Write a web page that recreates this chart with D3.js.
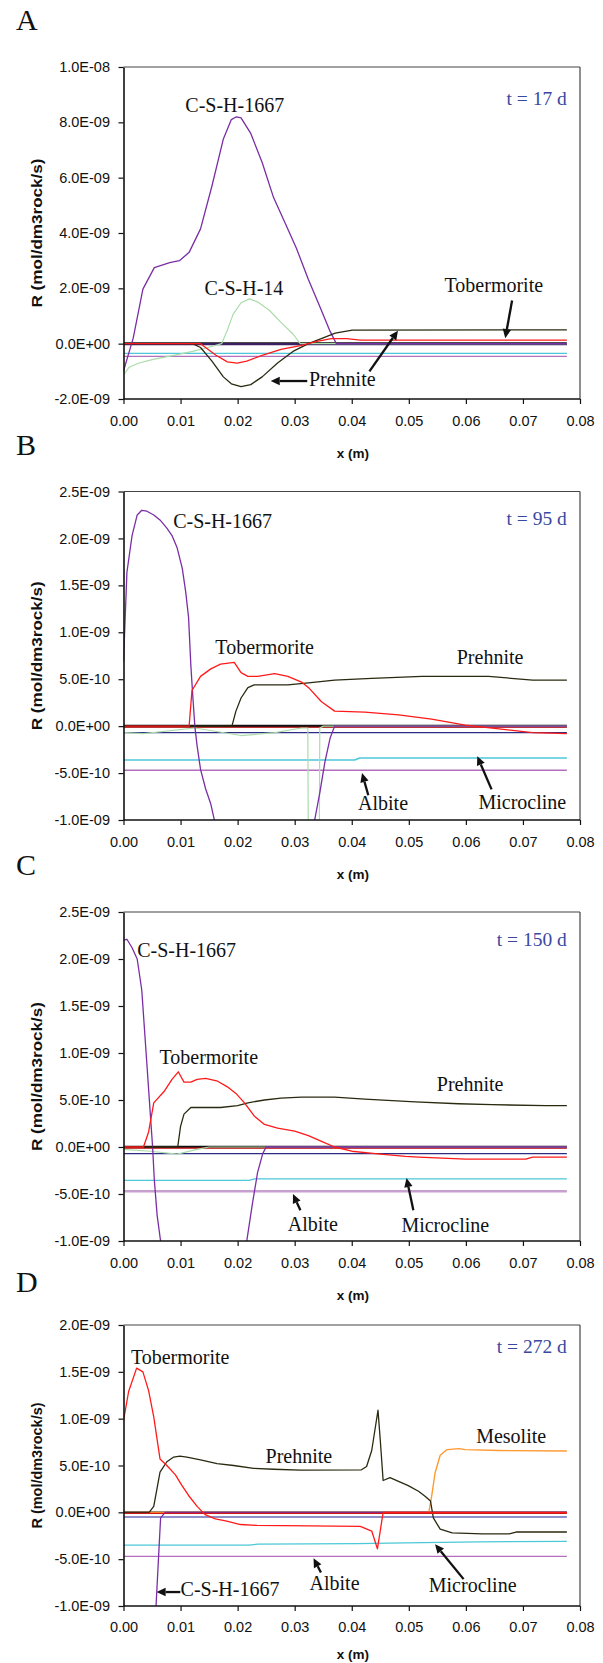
<!DOCTYPE html>
<html><head><meta charset="utf-8">
<script src="https://cdn.jsdelivr.net/npm/d3@7"></script>
<style>body{margin:0;background:#fff;} svg{display:block;}</style>
</head><body>
<svg id="chart" width="603" height="1663"></svg>
<script>
// ---- DATA (x in m, y in units of 1e-9 mol/dm3rock/s) ----
const xTicks = [0, 0.01, 0.02, 0.03, 0.04, 0.05, 0.06, 0.07, 0.08];
const xTickLabels = ["0.00","0.01","0.02","0.03","0.04","0.05","0.06","0.07","0.08"];
const yTicksA = [-2, 0, 2, 4, 6, 8, 10];
const yTickLabelsA = ["-2.0E-09","0.0E+00","2.0E-09","4.0E-09","6.0E-09","8.0E-09","1.0E-08"];
const yTicksBC = [-1, -0.5, 0, 0.5, 1, 1.5, 2, 2.5];
const yTickLabelsBC = ["-1.0E-09","-5.0E-10","0.0E+00","5.0E-10","1.0E-09","1.5E-09","2.0E-09","2.5E-09"];
const yTicksD = [-1, -0.5, 0, 0.5, 1, 1.5, 2];
const yTickLabelsD = ["-1.0E-09","-5.0E-10","0.0E+00","5.0E-10","1.0E-09","1.5E-09","2.0E-09"];
const timeLabels = ["t = 17 d", "t = 95 d", "t = 150 d", "t = 272 d"];
const timeLabelY = [8.64, 2.14, 2.14, 1.70];
const panelLetters = ["A", "B", "C", "D"];

// Panel A (t = 17 d)
const A_csh1667 = [[0,-0.99],[0.0017,0.2],[0.0034,1.97],[0.0054,2.75],[0.0081,2.93],[0.0098,3.0],[0.0115,3.3],[0.0135,4.15],[0.0155,5.7],[0.0175,7.4],[0.0189,8.1],[0.0198,8.2],[0.0206,8.16],[0.0223,7.6],[0.0243,6.55],[0.0263,5.28],[0.0283,4.37],[0.0303,3.45],[0.0324,2.32],[0.0344,1.34],[0.0361,0.49],[0.0373,0],[0.0777,0]];
const A_csh14 = [[0,-1.13],[0.001,-0.85],[0.0027,-0.7],[0.0054,-0.56],[0.0088,-0.42],[0.0121,-0.28],[0.0148,-0.14],[0.0172,0],[0.0182,0.49],[0.0192,1.06],[0.0206,1.48],[0.0221,1.62],[0.0236,1.5],[0.0256,1.2],[0.0276,0.77],[0.0297,0.35],[0.0307,0.07],[0.031,0],[0.0777,0]];
const A_tobermorite = [[0,0],[0.0135,0],[0.0162,-0.42],[0.0182,-0.66],[0.0199,-0.7],[0.0216,-0.63],[0.0243,-0.42],[0.0276,-0.21],[0.031,-0.07],[0.0337,0.07],[0.0364,0.18],[0.0391,0.18],[0.0415,0.13],[0.0777,0.13]];
const A_prehnite = [[0,0],[0.0121,0],[0.0135,-0.14],[0.0155,-0.63],[0.0175,-1.2],[0.0189,-1.45],[0.0206,-1.55],[0.0223,-1.48],[0.0243,-1.2],[0.027,-0.7],[0.0297,-0.28],[0.0324,0],[0.035,0.21],[0.0371,0.38],[0.0401,0.49],[0.0777,0.5]];
const A_microcline = [[0,-0.35],[0.0777,-0.35]];
const A_albite = [[0,-0.46],[0.0777,-0.46]];
const A_navy = [[0,-0.02],[0.0777,-0.02]];

// Panel B (t = 95 d)
const B_csh1667 = [[0,0.69],[0.0006,1.64],[0.0015,2.03],[0.0024,2.25],[0.0032,2.3],[0.0041,2.29],[0.0053,2.25],[0.0065,2.19],[0.0076,2.11],[0.0085,2.03],[0.0094,1.9],[0.0103,1.68],[0.0109,1.43],[0.0114,1.16],[0.0118,0.65],[0.0121,0.36],[0.0125,0],[0.0129,-0.21],[0.0135,-0.46],[0.0144,-0.67],[0.0153,-0.83],[0.016,-1.02],[0.017,-1.4],[0.0325,-1.4],[0.0335,-1.0],[0.0344,-0.71],[0.0353,-0.38],[0.0362,-0.13],[0.037,0],[0.0777,0]];
const B_csh14 = [[0,-0.07],[0.0035,-0.08],[0.0125,-0.02],[0.0206,-0.1],[0.0265,-0.07],[0.0312,-0.02],[0.0323,-0.02],[0.0324,-1.4],[0.0343,-1.4],[0.0344,-0.02],[0.035,0],[0.0777,0]];
const B_tobermorite = [[0,0],[0.0115,0],[0.012,0.38],[0.0135,0.53],[0.0153,0.61],[0.017,0.66],[0.0194,0.68],[0.0206,0.57],[0.0218,0.53],[0.0235,0.53],[0.0265,0.56],[0.0288,0.53],[0.0312,0.47],[0.0326,0.40],[0.0347,0.26],[0.037,0.16],[0.0423,0.15],[0.0482,0.12],[0.054,0.074],[0.0599,0.01],[0.0658,-0.03],[0.0717,-0.07],[0.0777,-0.08]];
const B_prehnite = [[0,0],[0.019,0],[0.0197,0.16],[0.0206,0.3],[0.0218,0.41],[0.0229,0.44],[0.0288,0.44],[0.0324,0.46],[0.037,0.49],[0.0435,0.51],[0.0523,0.53],[0.064,0.53],[0.0717,0.49],[0.0777,0.49]];
const B_microcline = [[0,-0.36],[0.0405,-0.36],[0.0414,-0.34],[0.0777,-0.34]];
const B_albite = [[0,-0.47],[0.0777,-0.47]];
const B_navy = [[0,-0.07],[0.0777,-0.07]];

// Panel C (t = 150 d)
const C_csh1667 = [[0,2.2],[0.0006,2.21],[0.0015,2.12],[0.0024,2.0],[0.0032,1.67],[0.0041,0.88],[0.0047,0.35],[0.0051,0],[0.0054,-0.35],[0.0059,-0.73],[0.0065,-1.0],[0.007,-1.4],[0.021,-1.4],[0.0216,-1.0],[0.0226,-0.6],[0.0235,-0.27],[0.0244,-0.07],[0.025,0],[0.0777,0]];
const C_csh14 = [[0,-0.025],[0.0047,-0.045],[0.0094,-0.075],[0.0129,-0.025],[0.015,0],[0.0777,0]];
const C_tobermorite = [[0,0],[0.0035,0],[0.0044,0.16],[0.0053,0.47],[0.0071,0.59],[0.0085,0.72],[0.0096,0.8],[0.0106,0.69],[0.0118,0.69],[0.0129,0.72],[0.0144,0.73],[0.0165,0.7],[0.0182,0.64],[0.0197,0.57],[0.0212,0.47],[0.0229,0.33],[0.0247,0.24],[0.027,0.2],[0.03,0.17],[0.0324,0.12],[0.0347,0.06],[0.037,0.0],[0.04,-0.045],[0.0441,-0.07],[0.0494,-0.1],[0.0517,-0.107],[0.06,-0.128],[0.0705,-0.128],[0.0717,-0.107],[0.0777,-0.107]];
const C_prehnite = [[0,0],[0.0095,0],[0.01,0.22],[0.0106,0.35],[0.0118,0.42],[0.017,0.42],[0.02,0.44],[0.0218,0.47],[0.0247,0.5],[0.0276,0.52],[0.0312,0.53],[0.037,0.53],[0.0423,0.51],[0.0511,0.48],[0.0587,0.46],[0.0646,0.45],[0.074,0.44],[0.0777,0.44]];
const C_microcline = [[0,-0.355],[0.022,-0.355],[0.023,-0.34],[0.0777,-0.34]];
const C_albite = [[0,-0.47],[0.0777,-0.47]];
const C_navy = [[0,-0.07],[0.0777,-0.07]];

// Panel D (t = 272 d)
const D_csh1667 = [[0,-1.3],[0.0055,-1.3],[0.0057,-1.0],[0.0065,-0.06],[0.0073,0],[0.0777,0]];
const D_tobermorite = [[0,0.98],[0.0009,1.29],[0.0023,1.54],[0.0034,1.5],[0.0044,1.3],[0.0053,1.02],[0.0064,0.57],[0.0076,0.5],[0.0091,0.4],[0.0102,0.29],[0.0114,0.18],[0.0129,0.064],[0.0143,-0.025],[0.0161,-0.07],[0.0181,-0.095],[0.0205,-0.13],[0.0234,-0.14],[0.0415,-0.15],[0.0435,-0.2],[0.0445,-0.39],[0.0455,0],[0.0777,0]];
const D_prehnite = [[0,0],[0.0045,0],[0.0053,0.064],[0.0064,0.43],[0.0076,0.54],[0.0088,0.59],[0.0099,0.6],[0.0111,0.59],[0.0135,0.56],[0.0164,0.52],[0.0193,0.5],[0.0228,0.47],[0.0263,0.46],[0.031,0.45],[0.0417,0.454],[0.0426,0.49],[0.0435,0.66],[0.0446,1.09],[0.045,0.77],[0.0455,0.34],[0.0467,0.37],[0.0482,0.33],[0.0499,0.285],[0.0517,0.225],[0.0529,0.17],[0.0538,0.12],[0.0543,-0.06],[0.0555,-0.18],[0.0576,-0.22],[0.0629,-0.23],[0.0676,-0.23],[0.0688,-0.21],[0.0777,-0.21]];
const D_mesolite = [[0,0],[0.0535,0],[0.054,0.17],[0.0546,0.42],[0.0555,0.61],[0.0567,0.67],[0.0588,0.68],[0.0599,0.67],[0.0658,0.66],[0.0777,0.655]];
const D_microcline = [[0,-0.35],[0.022,-0.35],[0.0235,-0.34],[0.0411,-0.335],[0.0493,-0.326],[0.0623,-0.315],[0.0777,-0.31]];
const D_albite = [[0,-0.47],[0.0777,-0.47]];
const D_navy = [[0,-0.05],[0.0777,-0.05]];

const zeroLine = [[0,0],[0.0777,0]];
const zeroRed = [[0,-0.012],[0.0777,-0.012]];

// annotations: [text, x, y, anchor]; arrows: [x1,y1,x2,y2] (tip at x2,y2), all in data units
const A_labels = [["C-S-H-1667",0.0195,8.37,"middle"],["C-S-H-14",0.0211,1.76,"middle"],["Tobermorite",0.0649,1.86,"middle"],["Prehnite",0.0325,-1.52,"start"]];
const A_arrows = [[0.0681,1.56,0.0669,0.2],[0.0322,-1.35,0.0258,-1.35],[0.0431,-1.0,0.0481,0.47]];
const B_labels = [["C-S-H-1667",0.0087,2.11,"start"],["Tobermorite",0.0161,0.77,"start"],["Prehnite",0.0584,0.665,"start"],["Albite",0.0411,-0.893,"start"],["Microcline",0.0622,-0.88,"start"]];
const B_arrows = [[0.0429,-0.736,0.0418,-0.5],[0.0645,-0.674,0.062,-0.32]];
const C_labels = [["C-S-H-1667",0.0024,2.02,"start"],["Tobermorite",0.0063,0.885,"start"],["Prehnite",0.0549,0.595,"start"],["Albite",0.0288,-0.889,"start"],["Microcline",0.0487,-0.909,"start"]];
const C_arrows = [[0.031,-0.673,0.0297,-0.5],[0.0508,-0.673,0.0496,-0.33]];
const D_labels = [["Tobermorite",0.0013,1.584,"start"],["Prehnite",0.0249,0.53,"start"],["Mesolite",0.0618,0.736,"start"],["C-S-H-1667",0.0100,-0.897,"start"],["Albite",0.0326,-0.826,"start"],["Microcline",0.0535,-0.854,"start"]];
const D_arrows = [[0.00996,-0.851,0.0058,-0.851],[0.0346,-0.642,0.0333,-0.49],[0.0596,-0.713,0.0546,-0.34]];

// ---- STYLES / LAYOUT ----
const COL = {
  csh1667: "#7a2ea6", csh14: "#aadcaa", tober: "#ff1a1a", preh: "#2a2a10",
  micro: "#4cc8d8", albite: "#b46ebe", navy: "#2c2c84", meso: "#ff9a30",
  zero: "#111111", zeroRed: "#d01818", tlabel: "#3a48a0"
};

const panels = [
  { top: 67, h: 332, letterOff: 37, yLabLen: 149, xLabOff: 12, xTitleOff: 59,
    ydom: [-2, 10], yt: yTicksA, ytl: yTickLabelsA, labels: A_labels, arrows: A_arrows,
    series: [
      [zeroLine, COL.zero, 2.6], [A_albite, COL.albite, 1.3], [A_microcline, COL.micro, 1.3], [A_navy, "#3a2060", 2.2],
      [A_csh14, COL.csh14, 1.2], [A_csh1667, COL.csh1667, 1.3], [A_prehnite, COL.preh, 1.3], [A_tobermorite, COL.tober, 1.3]
    ]},
  { top: 491.5, h: 328.5, letterOff: 37, yLabLen: 149, xLabOff: 12, xTitleOff: 59,
    ydom: [-1, 2.5], yt: yTicksBC, ytl: yTickLabelsBC, labels: B_labels, arrows: B_arrows,
    series: [
      [zeroLine, COL.zero, 2.6], [zeroRed, COL.zeroRed, 1.2], [B_albite, COL.albite, 1.3], [B_microcline, COL.micro, 1.6], [B_navy, COL.navy, 1.2],
      [B_csh14, COL.csh14, 1.2], [B_csh1667, COL.csh1667, 1.3], [B_prehnite, COL.preh, 1.3], [B_tobermorite, COL.tober, 1.3]
    ]},
  { top: 912, h: 329, letterOff: 37, yLabLen: 149, xLabOff: 12, xTitleOff: 59,
    ydom: [-1, 2.5], yt: yTicksBC, ytl: yTickLabelsBC, labels: C_labels, arrows: C_arrows,
    series: [
      [zeroLine, COL.zero, 2.6], [zeroRed, COL.zeroRed, 1.2], [C_albite, "#c8a0d0", 2.4], [C_microcline, COL.micro, 1.3], [C_navy, COL.navy, 1.2],
      [C_csh14, COL.csh14, 1.2], [C_csh1667, COL.csh1667, 1.3], [C_prehnite, COL.preh, 1.3], [C_tobermorite, COL.tober, 1.3]
    ]},
  { top: 1325, h: 281, letterOff: 33, yLabLen: 126, xLabOff: 11, xTitleOff: 53,
    ydom: [-1, 2], yt: yTicksD, ytl: yTickLabelsD, labels: D_labels, arrows: D_arrows,
    series: [
      [zeroLine, COL.zero, 1.6], [D_albite, COL.albite, 1.3], [D_microcline, COL.micro, 1.3], [D_navy, "#6a6ab8", 1.4],
      [D_mesolite, COL.meso, 1.4], [D_csh1667, COL.csh1667, 1.3], [D_prehnite, COL.preh, 1.3], [zeroRed, COL.zeroRed, 1.3], [D_tobermorite, COL.tober, 1.3]
    ]}
];

const L = 123.5, R = 580;
const svg = d3.select("#chart");
const x = d3.scaleLinear().domain([0, 0.08]).range([L, R]);
const defs = svg.append("defs");
const SANS = "'Liberation Sans',Arial,sans-serif";
const SERIF = "'Liberation Serif','Times New Roman',serif";

panels.forEach((p, i) => {
  const H = p.h;
  const y = d3.scaleLinear().domain(p.ydom).range([p.top + H, p.top]);
  const g = svg.append("g");
  const cid = "clip" + i;
  defs.append("clipPath").attr("id", cid).append("rect")
    .attr("x", L).attr("y", p.top).attr("width", R - L).attr("height", H);

  // panel letter
  g.append("text").attr("x", 16).attr("y", p.top - p.letterOff).text(panelLetters[i])
    .style("font-family", SERIF).style("font-size", "30px").attr("fill", "#111");

  // series
  const line = d3.line().x(d => x(d[0])).y(d => y(d[1]));
  const sg = g.append("g").attr("clip-path", `url(#${cid})`);
  p.series.forEach(s => {
    sg.append("path").attr("d", line(s[0])).attr("fill", "none")
      .attr("stroke", s[1]).attr("stroke-width", s[2]).attr("stroke-linejoin", "round");
  });

  // frame
  g.append("line").attr("x1", L).attr("x2", R).attr("y1", p.top).attr("y2", p.top).attr("stroke", "#444").attr("stroke-width", 1.2);
  g.append("line").attr("x1", R).attr("x2", R).attr("y1", p.top).attr("y2", p.top + H).attr("stroke", "#444").attr("stroke-width", 1.2);

  // axes
  const ax = g.append("g").attr("transform", `translate(0,${p.top + H})`)
    .call(d3.axisBottom(x).tickValues(xTicks).tickFormat((d, k) => xTickLabels[k]).tickSize(5).tickPadding(p.xLabOff).tickSizeOuter(0));
  const ay = g.append("g").attr("transform", `translate(${L},0)`)
    .call(d3.axisLeft(y).tickValues(p.yt).tickFormat((d, k) => p.ytl[k]).tickSize(5).tickPadding(8.5).tickSizeOuter(0));
  [ax, ay].forEach(a => {
    a.select(".domain").attr("stroke", "#111").attr("stroke-width", 1.6);
    a.selectAll(".tick line").attr("stroke", "#111").attr("stroke-width", 1.2);
    a.selectAll("text").style("font-family", SANS).style("font-size", "14.5px").attr("fill", "#111");
  });
  ax.select(".domain").attr("d", `M${L},0H${R}`);

  // axis titles
  g.append("text").attr("x", 353).attr("y", p.top + H + p.xTitleOff).attr("text-anchor", "middle").text("x (m)")
    .style("font-family", SANS).style("font-size", "13.5px").style("font-weight", "bold").attr("fill", "#111");
  g.append("text").attr("transform", `translate(42,${p.top + H / 2}) rotate(-90)`).attr("text-anchor", "middle")
    .attr("textLength", p.yLabLen).attr("lengthAdjust", "spacingAndGlyphs")
    .text("R (mol/dm3rock/s)")
    .style("font-family", SANS).style("font-size", "14.5px").style("font-weight", "bold").attr("fill", "#111");

  // time label
  g.append("text").attr("x", x(0.0777)).attr("y", y(timeLabelY[i])).attr("text-anchor", "end").text(timeLabels[i])
    .style("font-family", SERIF).style("font-size", "19.5px").attr("fill", COL.tlabel);

  // labels
  p.labels.forEach(l => {
    g.append("text").attr("x", x(l[1])).attr("y", y(l[2])).attr("text-anchor", l[3]).text(l[0])
      .style("font-family", SERIF).style("font-size", "20px").attr("fill", "#111");
  });

  // arrows
  p.arrows.forEach(a => {
    const x1 = x(a[0]), y1 = y(a[1]), x2 = x(a[2]), y2 = y(a[3]);
    const ang = Math.atan2(y2 - y1, x2 - x1);
    const hl = 9, hw = 4.2;
    const bx = x2 - hl * Math.cos(ang), by = y2 - hl * Math.sin(ang);
    g.append("line").attr("x1", x1).attr("y1", y1).attr("x2", bx).attr("y2", by)
      .attr("stroke", "#111").attr("stroke-width", 2.3);
    const px = -Math.sin(ang) * hw, py = Math.cos(ang) * hw;
    g.append("path").attr("d", `M${x2},${y2}L${bx + px},${by + py}L${bx - px},${by - py}Z`).attr("fill", "#111");
  });
});
</script>
</body></html>
